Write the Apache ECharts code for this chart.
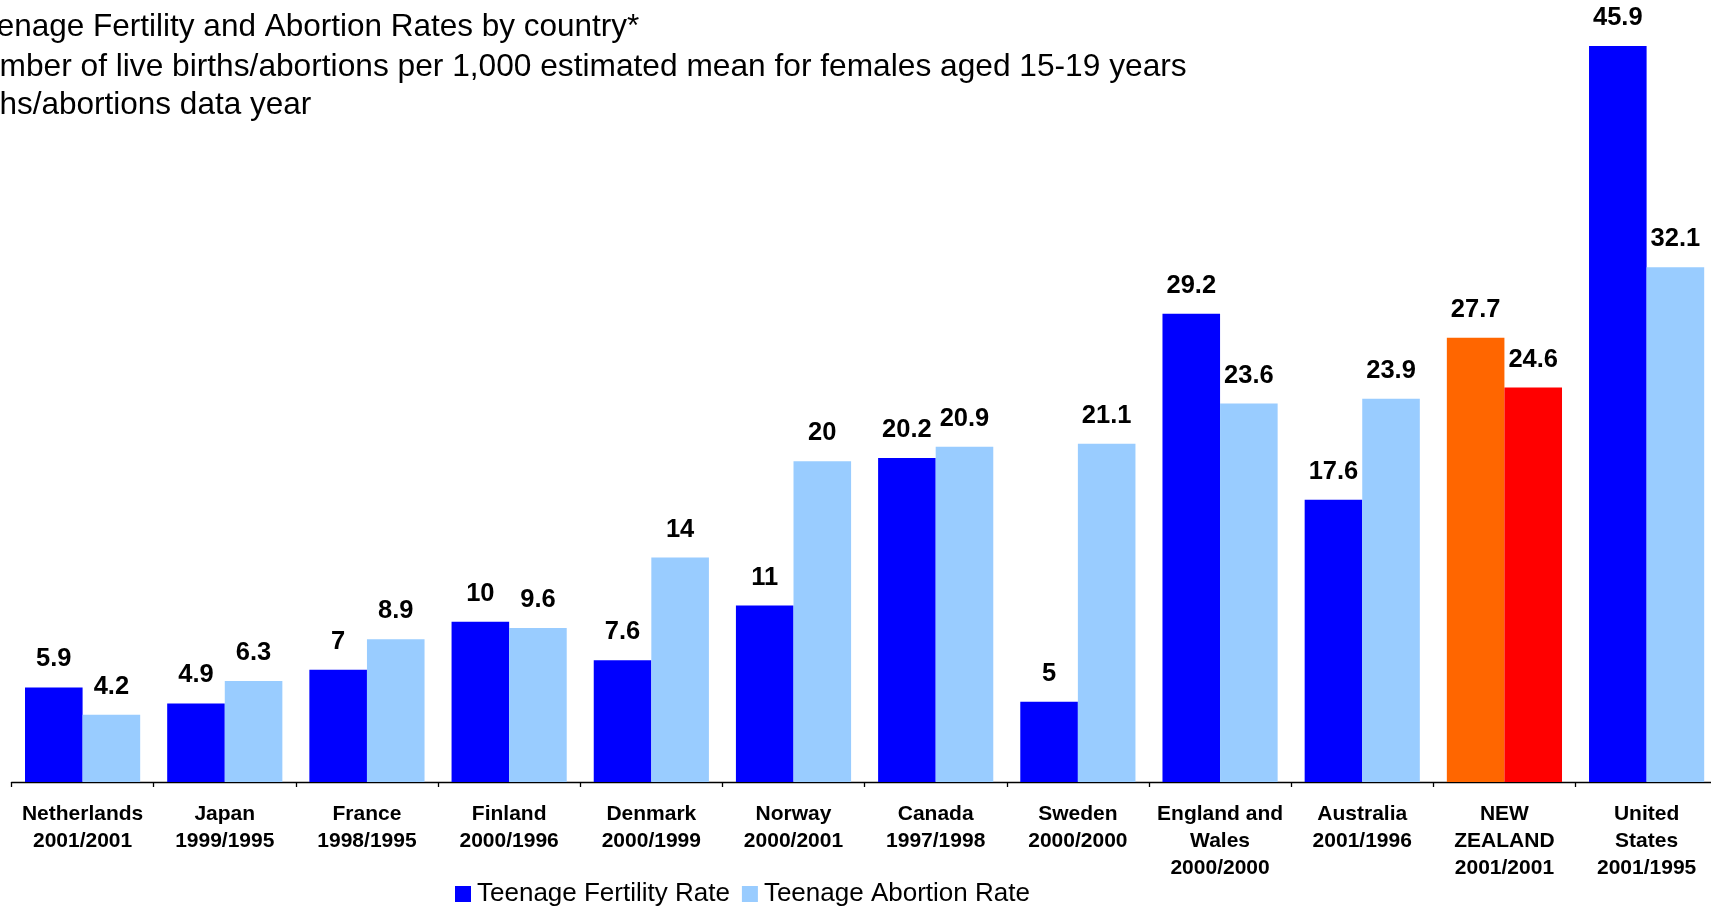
<!DOCTYPE html>
<html>
<head>
<meta charset="utf-8">
<script src="https://cdn.jsdelivr.net/npm/echarts@6/dist/echarts.min.js"></script>
<style>
html,body{margin:0;padding:0;background:#fff;}
#chart{width:1711px;height:907px;}
</style>
</head>
<body>
<div id="chart"></div>
<script>
// ---- data ----
const countries = ['Netherlands', 'Japan', 'France', 'Finland', 'Denmark', 'Norway', 'Canada', 'Sweden', 'England and\nWales', 'Australia', 'NEW\nZEALAND', 'United\nStates'];
const dataYears = ['2001/2001', '1999/1995', '1998/1995', '2000/1996', '2000/1999', '2000/2001', '1997/1998', '2000/2000', '2000/2000', '2001/1996', '2001/2001', '2001/1995'];
const fertilityRate = [5.9, 4.9, 7, 10, 7.6, 11, 20.2, 5, 29.2, 17.6, 27.7, 45.9];
const abortionRate = [4.2, 6.3, 8.9, 9.6, 14, 20, 20.9, 21.1, 23.6, 23.9, 24.6, 32.1];
const seriesNames = ['Teenage Fertility Rate', 'Teenage Abortion Rate'];
const titleLines = ['Teenage Fertility and Abortion Rates by country*', 'Number of live births/abortions per 1,000 estimated mean for females aged 15-19 years', '*Births/abortions data year'];

// ---- styling ----
const highlightIndex = 10;
const FONT = '"Liberation Sans", Arial, sans-serif';
const categories = countries.map((c, i) => c + '\n' + dataYears[i]);

function build(values, hi) {
  return values.map((v, i) => i === highlightIndex ? { value: v, itemStyle: { color: hi } } : v);
}

const labelCfg = {
  show: true, position: 'top', distance: 15,
  fontFamily: FONT, fontSize: 25.5, fontWeight: 'bold', color: '#000'
};

const chart = echarts.init(document.getElementById('chart'), null, { renderer: 'canvas' });
chart.setOption({
  backgroundColor: '#fff',
  animation: false,
  grid: { left: 11.5, width: 1706.2, top: 12.3, bottom: 125, containLabel: false, outerBoundsMode: 'none' },
  xAxis: {
    type: 'category',
    data: categories,
    boundaryGap: true,
    axisLine: { show: true, lineStyle: { color: '#000', width: 1.3 } },
    axisTick: { show: true, length: 5, lineStyle: { color: '#000', width: 1.3 } },
    axisLabel: {
      interval: 0, margin: 19, fontFamily: FONT, fontSize: 21, fontWeight: 'bold',
      color: '#000', lineHeight: 27
    }
  },
  yAxis: { type: 'value', min: 0, max: 48, show: false, splitLine: { show: false } },
  legend: {
    left: 455, top: 881, padding: 0,
    itemWidth: 16, itemHeight: 16, itemGap: 12,
    icon: 'rect',
    textStyle: { fontFamily: FONT, fontSize: 26, color: '#000', padding: [0, 0, 0, 1] },
    data: seriesNames
  },
  series: [
    {
      name: seriesNames[0], type: 'bar', barGap: '0%', barCategoryGap: '19%',
      itemStyle: { color: '#0000FF' },
      label: labelCfg,
      data: build(fertilityRate, '#FF6600')
    },
    {
      name: seriesNames[1], type: 'bar', barGap: '0%', barCategoryGap: '19%',
      itemStyle: { color: '#99CCFF' },
      label: labelCfg,
      data: build(abortionRate, '#FF0000')
    }
  ],
  graphic: [
    { type: 'text', left: -36.5, top: 11.5, style: { text: titleLines[0], font: '31.5px ' + FONT, fill: '#000' } },
    { type: 'text', left: -41, top: 51.5, style: { text: titleLines[1], font: '31.7px ' + FONT, fill: '#000' } },
    { type: 'text', left: -60, top: 89.5, style: { text: titleLines[2], font: '31.5px ' + FONT, fill: '#000' } }
  ]
});
</script>
</body>
</html>
